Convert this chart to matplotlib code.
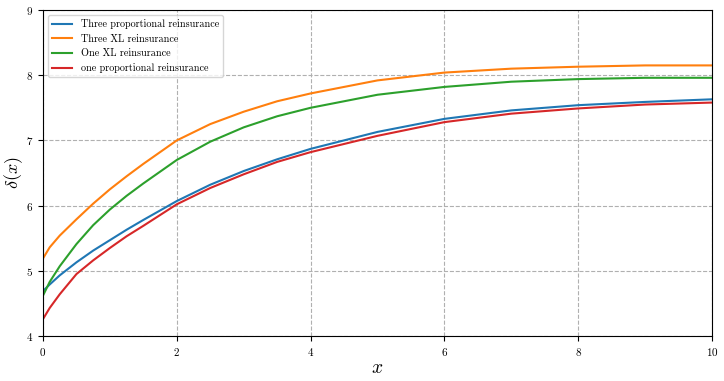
import numpy as np
import matplotlib
matplotlib.use('Agg')
from matplotlib import pyplot as plt

# values
xs = [0, 0.1, 0.25, 0.5, 0.75, 1, 1.25, 1.5, 2, 2.5, 3, 3.5, 4, 5, 6, 7, 8, 9, 10]
three_prop = [4.69, 4.79, 4.93, 5.13, 5.31, 5.47, 5.63, 5.78, 6.07, 6.32, 6.53, 6.71, 6.87, 7.13, 7.33, 7.46, 7.54, 7.59, 7.63]
three_xl = [5.19, 5.36, 5.54, 5.79, 6.03, 6.25, 6.45, 6.64, 7.00, 7.25, 7.44, 7.60, 7.72, 7.92, 8.04, 8.10, 8.13, 8.15, 8.15]
one_xl = [4.62, 4.83, 5.07, 5.41, 5.70, 5.94, 6.15, 6.34, 6.70, 6.98, 7.20, 7.37, 7.50, 7.70, 7.82, 7.90, 7.94, 7.96, 7.96]
one_prop = [4.26, 4.43, 4.64, 4.95, 5.16, 5.35, 5.53, 5.69, 6.02, 6.27, 6.48, 6.67, 6.82, 7.07, 7.28, 7.41, 7.49, 7.55, 7.58]
labels = ["Three proportional reinsurance", "Three XL reinsurance",
          "One XL reinsurance", "one proportional reinsurance"]

plt.rcParams['font.family'] = 'serif'
plt.rcParams['font.serif'] = ['cmr10']
plt.rcParams['mathtext.fontset'] = 'cm'
plt.rcParams['axes.formatter.use_mathtext'] = True

fig = plt.figure(figsize=(7.24, 3.81), dpi=100)
ax = fig.add_axes([0.0594, 0.1181, 0.9240, 0.8557])

for ys, lab in zip([three_prop, three_xl, one_xl, one_prop], labels):
   ax.plot(xs, ys, linewidth=1.5, label=lab)

ax.set_xlim(0, 10)
ax.set_ylim(4, 9)
ax.set_xticks(np.arange(0, 11, 2))
ax.set_yticks(np.arange(4, 10, 1))
ax.tick_params(labelsize=8, length=3.5)
ax.grid(True, linestyle='--', color='#b0b0b0', linewidth=0.8)
ax.set_xlabel(r'$x$', fontsize=14)
ax.set_ylabel(r'$\delta(x)$', fontsize=13)
ax.xaxis.set_label_coords(0.5, -0.072)
ax.yaxis.set_label_coords(-0.027, 0.5)
ax.legend(loc='upper left', fontsize=7.3)

fig.savefig('out.png', dpi=100)
plt.close(fig)
